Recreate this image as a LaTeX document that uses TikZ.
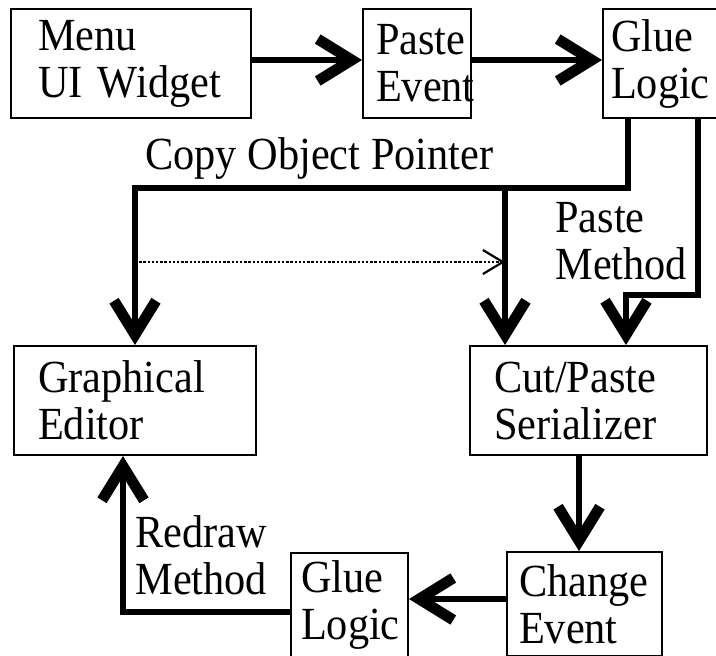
\documentclass[tikz,border=0pt]{standalone}
\usepackage{fontspec}
\setmainfont[FakeStretch=0.92]{Liberation Serif}
\usetikzlibrary{arrows.meta}
\hyphenpenalty=10000
\exhyphenpenalty=10000

\begin{document}
\begin{tikzpicture}[x=0.5pt,y=-0.5pt,
        every node/.style={font=\fontsize{23}{23.5}\selectfont},
        box/.style={draw, line width=1pt, anchor=north west, align=left,
                inner ysep=0pt, minimum height=54.5pt},
        lbl/.style={anchor=west, align=left, inner sep=0pt},
        flow/.style={line width=3.3pt, -{Straight Barb[length=17pt,width=21pt,line width=5.4pt]}},
        ptr/.style={line width=0.9pt, dash pattern=on 1.2pt off 0.9pt, -{Straight Barb[length=10pt,width=12pt,line width=1.1pt]}}]
        \path[use as bounding box, clip] (0,0) rectangle (716,655);
        \node[box, inner xsep=13.5pt, text width=93pt] (menu) at (10,8) {Menu\\UI Widget};
        \node[box, inner xsep=6.5pt, text width=41pt] (pev) at (362,8) {Paste\\Event};
        \node[box, inner xsep=4pt, text width=54pt] (glueT) at (602,8) {Glue\\Logic};
        \node[box, inner xsep=12pt, text width=97pt] (ged) at (13,345) {Graphical\\Editor};
        \node[box, inner xsep=12pt, text width=94.5pt] (cps) at (469,345) {Cut/Paste\\Serializer};
        \node[box, inner xsep=6pt, text width=65.5pt, minimum height=52pt] (chg) at (506,551) {Change\\Event};
        \node[box, inner xsep=5pt, text width=48.5pt, minimum height=52pt] (glueB) at (290,552) {Glue\\Logic};
        \node[lbl, anchor=base west] (cop) at (145,169) {Copy Object Pointer};
        \node[lbl] (pmt) at (555,241) {Paste\\Method};
        \node[lbl] (rdm) at (135,555) {Redraw\\Method};
        \coordinate (cpR) at (628,188);
        \coordinate (cpL) at (135,188);
        \coordinate (cpB) at (505,188);
        \coordinate (pmR) at (698,295);
        \coordinate (pmL) at (626,295);
        \coordinate (dtA) at (135,262);
        \coordinate (dtB) at (505,262);
        \coordinate (dn) at (579,0);
        \coordinate (hz) at (0,599);
        \coordinate (rd) at (123,612);
        \draw[flow] (menu.east |- 0,60) -- (pev.west |- 0,60);
        \draw[flow] (pev.east |- 0,60) -- (glueT.west |- 0,60);
        \draw[flow] (glueT.south -| cpR) -- (cpR) -- (cpL) -- (ged.north -| cpL);
        \draw[flow] (cpB) -- (cps.north -| cpB);
        \draw[flow] (glueT.south -| pmR) -- (pmR) -- (pmL) -- (cps.north -| pmL);
        \draw[ptr] (dtA) -- (dtB);
        \draw[flow] (cps.south -| dn) -- (chg.north -| dn);
        \draw[flow] (chg.west |- hz) -- (glueB.east |- hz);
        \draw[flow] (glueB.west |- rd) -| (ged.south -| rd);
\end{tikzpicture}
\end{document}
